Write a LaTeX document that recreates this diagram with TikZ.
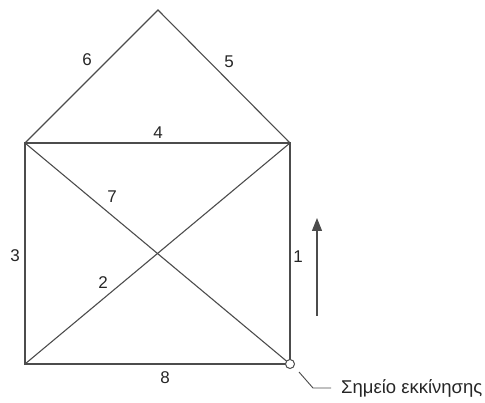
\documentclass[tikz,border=0pt]{standalone}
\usepackage{fontspec}
\setmainfont{Liberation Sans}
\usetikzlibrary{arrows.meta, positioning, calc}

\begin{document}
\begin{tikzpicture}[
  x=1pt, y=-1pt,
  e/.style={draw=black!70, line width=1.1pt},
  lbl/.style={font=\fontsize{17}{17}\selectfont, text=black!85, inner sep=0pt},
  a/.style={-{Triangle[length=13pt, width=10pt]}, line width=1.1pt, draw=black!70},
]
  \useasboundingbox (0,0) rectangle (485,403);
  \coordinate (top) at (158,10);
  \coordinate (tl)  at (25,143);
  \coordinate (tr)  at (290,143);
  \coordinate (bl)  at (25,364);
  \coordinate (br)  at (290,364);

  \draw[e] (tl) -- (top) -- (tr);
  \draw[e] (tl) -- (tr) -- (br) -- (bl) -- cycle;
  \draw[e] (tl) -- (br);
  \draw[e] (bl) -- (tr);
  \node[circle, draw=black!70, fill=white, line width=1pt, minimum size=9pt,
        inner sep=0pt] (start) at (br) {};

  % edge numbers
  \node[lbl] (n1) at (298,257) {1};
  \node[lbl] (n2) at (103,283) {2};
  \node[lbl] (n3) at (15,256)  {3};
  \node[lbl] (n4) at (158,133) {4};
  \node[lbl] (n5) at (229,62)  {5};
  \node[lbl] (n6) at (87,60)   {6};
  \node[lbl] (n7) at (112,197) {7};
  \node[lbl] (n8) at (165,378) {8};

  % direction of travel
  \coordinate (up0) at (317,316);
  \coordinate (up1) at (317,218);
  \draw[a] (up0) -- (up1);

  % start point callout
  \node[lbl, font=\fontsize{18.5}{18.5}\selectfont, anchor=west] (txt) at (341,388) {Σημείο εκκίνησης};
  \coordinate (k1) at (299,372);
  \coordinate (k2) at (313,388);
  \coordinate (k3) at (331,388);
  \draw[e, line width=0.9pt] (k1) -- (k2) -- (k3);
\end{tikzpicture}
\end{document}
